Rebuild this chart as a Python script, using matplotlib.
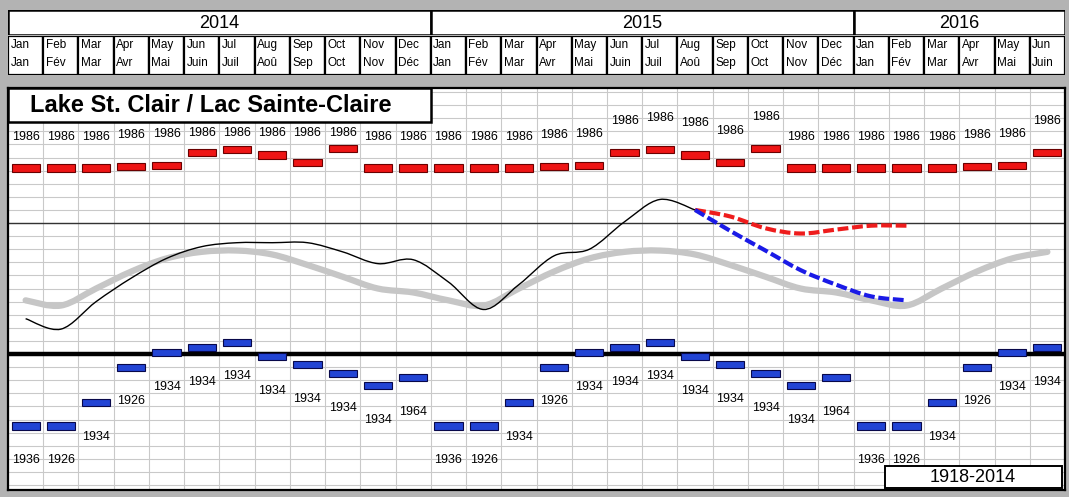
import numpy as np
import matplotlib.pyplot as plt
from matplotlib.patches import Rectangle, PathPatch
from matplotlib.path import Path

plt.rcParams['font.family'] = ['Liberation Sans', 'DejaVu Sans']

# -----------------------------
# Data (metres, IGLD85)
# -----------------------------
years = ['2014', '2015', '2016']
year_months = [12, 12, 6]
months_en = ['Jan', 'Feb', 'Mar', 'Apr', 'May', 'Jun', 'Jul', 'Aug', 'Sep', 'Oct', 'Nov', 'Dec']
months_fr = ['Jan', 'Fév', 'Mar', 'Avr', 'Mai', 'Juin', 'Juil', 'Aoû', 'Sep', 'Oct', 'Nov', 'Déc']
n_months = 30

# record monthly highs (all 1986) and lows, by calendar month
rec_high = [175.82, 175.82, 175.82, 175.83, 175.84, 175.94, 175.96, 175.92, 175.86, 175.97, 175.82, 175.82]
rec_high_year = ['1986'] * 12
rec_low = [173.85, 173.85, 174.03, 174.30, 174.41, 174.45, 174.49, 174.38, 174.32, 174.25, 174.16, 174.22]
rec_low_year = ['1936', '1926', '1934', '1926', '1934', '1934', '1934', '1934', '1934', '1934', '1934', '1964']

# long term monthly mean 1918-2014
lt_mean = [174.81, 174.77, 174.90, 175.03, 175.13, 175.18, 175.19, 175.16, 175.08, 174.99, 174.90, 174.87]

# recorded levels Jan 2014 - Aug 2015
recorded = [174.67, 174.59, 174.80, 174.98, 175.13, 175.22, 175.25, 175.25, 175.25, 175.18,
            175.09, 175.12, 174.95, 174.74, 174.93, 175.15, 175.20, 175.41, 175.58, 175.50]

# forecast range Aug 2015 - Feb 2016
fc_start = 19
fc_high = [175.50, 175.45, 175.36, 175.32, 175.35, 175.38, 175.38]
fc_low = [175.50, 175.34, 175.19, 175.04, 174.93, 174.84, 174.81]

chart_datum = 174.4

# -----------------------------
# Helpers
# -----------------------------
def smooth_path(x, y):
    # Excel-like smoothed line (Catmull-Rom as cubic Bezier)
    pts = np.column_stack([x, y])
    ext = np.vstack([pts[0], pts, pts[-1]])
    verts = [pts[0]]
    codes = [Path.MOVETO]
    for i in range(len(pts) - 1):
        p0, p1, p2, p3 = ext[i], ext[i + 1], ext[i + 2], ext[i + 3]
        verts += [p1 + (p2 - p0) / 6, p2 - (p3 - p1) / 6, p2]
        codes += [Path.CURVE4] * 3
    return Path(verts, codes)

W, H = 1069, 497
def frac(x0, y0, x1, y1):
    return [x0 / W, 1 - y1 / H, (x1 - x0) / W, (y1 - y0) / H]

fig = plt.figure(figsize=(W / 100, H / 100), dpi=100)
fig.patch.set_facecolor('#b3b3b3')

# -----------------------------
# Header (years / months)
# -----------------------------
ax_y = fig.add_axes(frac(8, 10, 1065, 35))
ax_m = fig.add_axes(frac(8, 36, 1065, 75))
for a in (ax_y, ax_m):
    a.set_xlim(0, n_months)
    a.set_ylim(0, 1)
    a.axis('off')

start = 0
for yr, nm in zip(years, year_months):
    ax_y.add_patch(Rectangle((start, 0), nm, 1, fc='white', ec='black', lw=1.8))
    ax_y.text(start + nm / 2, 0.48, yr, ha='center', va='center', fontsize=13)
    start += nm

for i in range(n_months):
    ax_m.add_patch(Rectangle((i, 0), 1, 1, fc='white', ec='black', lw=1.6))
    ax_m.text(i + 0.07, 0.76, months_en[i % 12], ha='left', va='center', fontsize=8.5)
    ax_m.text(i + 0.07, 0.30, months_fr[i % 12], ha='left', va='center', fontsize=8.5)

# -----------------------------
# Main plot
# -----------------------------
ax = fig.add_axes(frac(8, 88, 1065, 490))
ax.set_facecolor('white')
ax.set_xlim(0, n_months)
ax.set_ylim(173.362, 176.431)
ax.set_xticks(np.arange(0, n_months + 1))
ax.set_yticks(np.arange(173.4, 176.45, 0.1))
ax.grid(color='#c9c9c9', lw=0.8)
ax.tick_params(length=0, labelleft=False, labelbottom=False)
for s in ax.spines.values():
    s.set_color('black')
    s.set_linewidth(1.6)

ax.axhline(chart_datum, color='black', lw=3.2, zorder=3)
ax.axhline(chart_datum + 1.0, color='#333333', lw=1.0, zorder=2)

xc = np.arange(n_months) + 0.5
high30 = np.array((rec_high * 3)[:n_months])
low30 = np.array((rec_low * 3)[:n_months])
bar_h = 0.055

ax.bar(xc, bar_h, bottom=high30 - bar_h / 2, width=0.8,
       color='#ee1515', edgecolor='#6a0000', lw=0.8, zorder=4)
ax.bar(xc, bar_h, bottom=low30 - bar_h / 2, width=0.8,
       color='#2244d4', edgecolor='#08084a', lw=0.8, zorder=4)

for i in range(n_months):
    yh = high30[i] + 0.24
    if i < 12:
        yh = min(yh, 176.09)  # kept under the title box
    ax.text(xc[i], yh, rec_high_year[i % 12], ha='center', va='center', fontsize=9, zorder=5)
    ax.text(xc[i], low30[i] - 0.26, rec_low_year[i % 12], ha='center', va='center', fontsize=9, zorder=5)

# long term average
lt30 = (lt_mean * 3)[:n_months]
ax.add_patch(PathPatch(smooth_path(xc, lt30), fill=False, ec='#c6c6c6', lw=4.5,
                       capstyle='round', zorder=3))
# recorded
ax.add_patch(PathPatch(smooth_path(xc[:len(recorded)], recorded), fill=False,
                       ec='black', lw=1.0, zorder=5))
# forecast range
xf = xc[fc_start:fc_start + len(fc_high)]
ax.add_patch(PathPatch(smooth_path(xf, fc_high), fill=False, ec='#ee1c1c', lw=3.0,
                       ls=(0, (2.6, 0.9)), zorder=6))
ax.add_patch(PathPatch(smooth_path(xf, fc_low), fill=False, ec='#1a1ae6', lw=3.0,
                       ls=(0, (2.6, 0.9)), zorder=6))

# title box
ax.add_patch(Rectangle((0, 0.915), 0.4, 0.085, transform=ax.transAxes,
                       fc='white', ec='black', lw=1.8, zorder=7, clip_on=False))
ax.text(0.021, 0.957, 'Lake St. Clair / Lac Sainte-Claire', transform=ax.transAxes,
        ha='left', va='center', fontsize=17, fontweight='bold', zorder=8)

# period box
ax.add_patch(Rectangle((0.83, 0.004), 0.167, 0.056, transform=ax.transAxes,
                       fc='white', ec='black', lw=1.4, zorder=7))
ax.text(0.913, 0.032, '1918-2014', transform=ax.transAxes,
        ha='center', va='center', fontsize=13, zorder=8)

plt.savefig('out.png', dpi=100, facecolor=fig.get_facecolor())
